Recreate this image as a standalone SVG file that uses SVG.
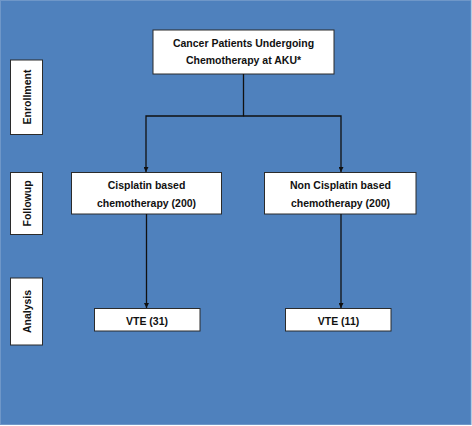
<svg xmlns="http://www.w3.org/2000/svg" width="472" height="426" viewBox="0 0 472 426">
<defs>
<style>
.box{fill:#ffffff;stroke:#2b2b2b;stroke-width:1}
.t{font-family:"Liberation Sans",Arial,sans-serif;font-weight:bold;font-size:10.5px;fill:#111;text-anchor:middle}
.c{stroke:#111;stroke-width:1.3;fill:none}
</style>
<marker id="ah" viewBox="0 0 10 10" refX="10" refY="5" markerWidth="5" markerHeight="5" markerUnits="userSpaceOnUse" orient="auto"><path d="M0,0 L10,5 L0,10 Z" fill="#111"/></marker>
</defs>
<rect x="0" y="0" width="472" height="426" fill="#ffffff"/>
<rect x="0.5" y="0.5" width="470.5" height="424" fill="#4f81bd" stroke="#6f97c8" stroke-width="1"/>
<g id="enrollment-label"><rect class="box" x="10.5" y="60" width="32" height="74.5"/><text class="t" transform="translate(30.5,97) rotate(-90)">Enrollment</text></g>
<g id="followup-label"><rect class="box" x="10.5" y="172.5" width="32" height="62"/><text class="t" transform="translate(30.5,203.5) rotate(-90)">Followup</text></g>
<g id="analysis-label"><rect class="box" x="10.5" y="278" width="32" height="67"/><text class="t" transform="translate(30.5,311.5) rotate(-90)">Analysis</text></g>
<g id="cancer"><rect class="box" x="153" y="30" width="181" height="44"/><text class="t" x="243.5" y="46.5">Cancer Patients Undergoing</text><text class="t" x="243.5" y="64">Chemotherapy at AKU*</text></g>
<g id="cisplatin"><rect class="box" x="71.5" y="172.5" width="150" height="41.5"/><text class="t" x="146.5" y="189">Cisplatin based</text><text class="t" x="146.5" y="206.5">chemotherapy (200)</text></g>
<g id="noncisplatin"><rect class="box" x="264.5" y="172.5" width="151.5" height="41.5"/><text class="t" x="340.5" y="189">Non Cisplatin based</text><text class="t" x="340.5" y="206.5">chemotherapy (200)</text></g>
<g id="vte31"><rect class="box" x="94.5" y="308.5" width="105.5" height="22.5"/><text class="t" x="147" y="324.5">VTE (31)</text></g>
<g id="vte11"><rect class="box" x="285.5" y="308.5" width="105.5" height="22.5"/><text class="t" x="338.5" y="324.5">VTE (11)</text></g>
<g id="connectors">
<path class="c" d="M243.5,74 V116 H146 V172" marker-end="url(#ah)"/>
<path class="c" d="M243.5,116 H341 V172" marker-end="url(#ah)"/>
<path class="c" d="M146.5,214 V308" marker-end="url(#ah)"/>
<path class="c" d="M341,214 V308" marker-end="url(#ah)"/>
</g>
</svg>
